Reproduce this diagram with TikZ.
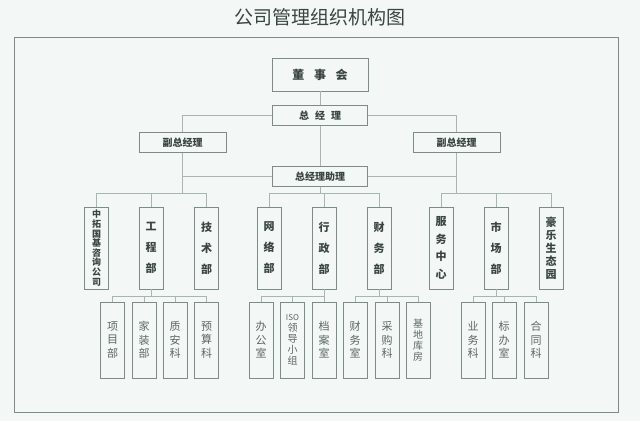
\documentclass[tikz,border=0pt]{standalone}
\usepackage{fontspec}
\setmainfont{Noto Sans CJK SC}
\usepackage{xcolor}
\usetikzlibrary{positioning}
\definecolor{paper}{HTML}{F3F7F6}
\definecolor{frameline}{HTML}{7E8C89}
\definecolor{wire}{HTML}{A9B5B2}
\definecolor{ink}{HTML}{3A4542}
\definecolor{inklight}{HTML}{5B6764}

\begin{document}
\begin{tikzpicture}[x=1pt, y=-1pt,
  box/.style={draw=frameline, line width=0.8pt, fill=paper, text=ink, inner sep=0pt, align=center},
  board/.style={box, minimum width=96, minimum height=33, font=\bfseries\fontsize{12}{14}\selectfont},
  mgr/.style={box, minimum width=95, minimum height=20, font=\bfseries\fontsize{10}{12}\selectfont},
  dept/.style={box, minimum width=24, minimum height=82, font=\bfseries\fontsize{11}{21}\selectfont},
  sub/.style={box, minimum width=24, minimum height=76, text=inklight, font=\fontsize{11}{13.5}\selectfont},
  link/.style={draw=wire, line width=0.7pt}]
  % page and frame
  \fill[paper] (0,0) rectangle (640,421);
  \useasboundingbox (0,0) rectangle (640,421);
  \node[text=ink, font=\fontsize{19}{22}\selectfont] (title) at (320,17) {公司管理组织机构图};
  \draw[frameline, line width=1pt] (14,37) rectangle (618,412);
  % management
  \node[board] (dsh) at (320,74.5) {董\hspace{0.8em}事\hspace{0.8em}会};
  \node[mgr] (zjl) at (320,115.5) {总\hspace{0.6em}经\hspace{0.6em}理};
  \node[mgr, minimum width=87] (fzl) at (182.5,142.5) {副总经理};
  \node[mgr, minimum width=87] (fzr) at (456.5,142.5) {副总经理};
  \node[mgr] (zlzl) at (320,176.5) {总经理助理};
  \coordinate (busA) at (0,193);
  \coordinate (busB) at (0,296);
  % departments
  \node[dept, font=\bfseries\fontsize{9}{9.6}\selectfont] (ztgj) at (96.5,248) {中\\拓\\国\\基\\咨\\询\\公\\司};
  \node[dept] (gcb) at (151,248) {工\\程\\部};
  \node[dept] (jsb) at (206.5,248) {技\\术\\部};
  \node[dept] (wlb) at (269,248) {网\\络\\部};
  \node[dept] (xzb) at (324,248) {行\\政\\部};
  \node[dept] (cwb) at (379,248) {财\\务\\部};
  \node[dept, font=\bfseries\fontsize{11}{17.5}\selectfont] (fwzx) at (441,248) {服\\务\\中\\心};
  \node[dept] (scb) at (496,248) {市\\场\\部};
  \node[dept, font=\bfseries\fontsize{11}{13}\selectfont] (hlst) at (551,248) {豪\\乐\\生\\态\\园};
  % sections
  \node[sub] (xmb) at (112.5,340) {项\\目\\部};
  \node[sub] (jzb) at (144,340) {家\\装\\部};
  \node[sub] (zak) at (175,340) {质\\安\\科};
  \node[sub] (ysk) at (206.5,340) {预\\算\\科};
  \node[sub] (bgs) at (261,340) {办\\公\\室};
  \node[sub, font=\fontsize{10}{11}\selectfont] (iso) at (292.5,340) {{\fontsize{8}{9}\selectfont ISO}\\领\\导\\小\\组};
  \node[sub] (das) at (324,340) {档\\案\\室};
  \node[sub] (cws) at (355,340) {财\\务\\室};
  \node[sub] (cgk) at (387,340) {采\\购\\科};
  \node[sub, font=\fontsize{10}{11}\selectfont] (jdkf) at (418,340) {基\\地\\库\\房};
  \node[sub] (ywk) at (473,340) {业\\务\\科};
  \node[sub] (bbs) at (504,340) {标\\办\\室};
  \node[sub] (htk) at (536,340) {合\\同\\科};
  % upper links
  \draw[link] (dsh) -- (zjl);
  \draw[link] (zjl.west) -| (fzl.north);
  \draw[link] (zjl.east) -| (fzr.north);
  \draw[link] (zjl) -- (zlzl);
  \draw[link] (zlzl.west) -- (zlzl.west -| fzl.south);
  \draw[link] (zlzl.east) -- (zlzl.east -| fzr.south);
  \draw[link] (fzl.south) -- (fzl.south |- busA);
  \draw[link] (fzr.south) -- (fzr.south |- busA);
  \draw[link] (zlzl.south) -- (zlzl.south |- busA);
  % department buses
  \draw[link] (ztgj.north) -- (ztgj.north |- busA) -- (jsb.north |- busA) -- (jsb.north);
  \draw[link] (gcb.north) -- (gcb.north |- busA);
  \draw[link] (wlb.north) -- (wlb.north |- busA) -- (cwb.north |- busA) -- (cwb.north);
  \draw[link] (xzb.north) -- (xzb.north |- busA);
  \draw[link] (fwzx.north) -- (fwzx.north |- busA) -- (hlst.north |- busA) -- (hlst.north);
  \draw[link] (scb.north) -- (scb.north |- busA);
  % section buses
  \draw[link] (gcb.south) -- (gcb.south |- busB);
  \draw[link] (xmb.north) -- (xmb.north |- busB) -- (ysk.north |- busB) -- (ysk.north);
  \draw[link] (jzb.north) -- (jzb.north |- busB);
  \draw[link] (zak.north) -- (zak.north |- busB);
  \draw[link] (xzb.south) -- (xzb.south |- busB);
  \draw[link] (bgs.north) -- (bgs.north |- busB) -- (das.north |- busB) -- (das.north);
  \draw[link] (iso.north) -- (iso.north |- busB);
  \draw[link] (cwb.south) -- (cwb.south |- busB);
  \draw[link] (cws.north) -- (cws.north |- busB) -- (jdkf.north |- busB) -- (jdkf.north);
  \draw[link] (cgk.north) -- (cgk.north |- busB);
  \draw[link] (scb.south) -- (scb.south |- busB);
  \draw[link] (ywk.north) -- (ywk.north |- busB) -- (htk.north |- busB) -- (htk.north);
  \draw[link] (bbs.north) -- (bbs.north |- busB);
\end{tikzpicture}
\end{document}
